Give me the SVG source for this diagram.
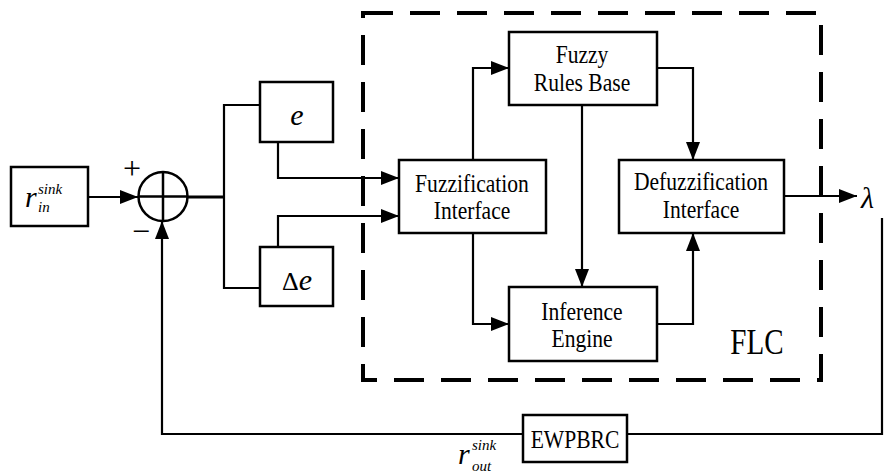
<svg xmlns="http://www.w3.org/2000/svg" width="884" height="473" viewBox="0 0 884 473">
<style>
.box{fill:#fff;stroke:#000;stroke-width:2.5}
.ln{fill:none;stroke:#000;stroke-width:2.2}
.t{font-size:26px;text-anchor:middle;fill:#000}
.m{font-style:italic;fill:#000}
.dash{fill:none;stroke:#000;stroke-width:4;stroke-dasharray:30 17}
</style>
<defs>
<marker id="ah" markerUnits="userSpaceOnUse" markerWidth="18" markerHeight="14" refX="18" refY="7" orient="auto">
<path d="M0,0 L18,7 L0,14 z" fill="#000"/>
</marker>
</defs>
<rect id="flc-frame" class="dash" x="363" y="13" width="458" height="367"/>
<g id="connectors">
<path class="ln" d="M88,197 H138" marker-end="url(#ah)"/>
<path class="ln" d="M187.5,197 H224" style="stroke-width:3"/>
<path class="ln" d="M260,105 H224 V288 H260"/>
<path class="ln" d="M278,142 V178 H399" marker-end="url(#ah)"/>
<path class="ln" d="M278,247 V216 H399" marker-end="url(#ah)"/>
<path class="ln" d="M473,160 V68 H509" marker-end="url(#ah)"/>
<path class="ln" d="M473,233 V324 H509" marker-end="url(#ah)"/>
<path class="ln" d="M582,105 V287" marker-end="url(#ah)"/>
<path class="ln" d="M657,68 H693 V160" marker-end="url(#ah)"/>
<path class="ln" d="M657,324 H693 V233" marker-end="url(#ah)"/>
<path class="ln" d="M784,196 H857" marker-end="url(#ah)"/>
<path class="ln" d="M882,218 V434 H627"/>
<path class="ln" d="M523,434 H162 V221" marker-end="url(#ah)"/>
</g>
<g font-family="Liberation Serif, Times New Roman, serif">
<g id="rin">
<rect class="box" x="11" y="167" width="77" height="59"/>
<text class="m" x="25" y="207" font-size="30">r</text>
<text class="m" x="38" y="194" font-size="15">sink</text>
<text class="m" x="38" y="212" font-size="15">in</text>
</g>
<g id="sum">
<circle cx="163" cy="196.5" r="24.5" fill="#fff" stroke="#000" stroke-width="2.5"/>
<path d="M138.5,196.5 H187.5 M163,172 V221" stroke="#000" stroke-width="2.5"/>
<text class="t" x="132" y="179" style="font-size:32px">+</text>
<text class="t" x="141" y="242" style="font-size:32px">−</text>
</g>
<g id="e">
<rect class="box" x="260" y="82" width="73" height="60"/>
<text class="m" x="297" y="125" font-size="30" text-anchor="middle">e</text>
</g>
<g id="de">
<rect class="box" x="260" y="247" width="73" height="59"/>
<text x="297" y="290" text-anchor="middle" font-size="26">Δ<tspan font-style="italic" font-size="30">e</tspan></text>
</g>
<g id="fuzzification">
<rect class="box" x="399" y="160" width="147" height="73"/>
<text class="t" transform="translate(472,192) scale(0.83,1)">Fuzzification</text>
<text class="t" transform="translate(472,219) scale(0.83,1)">Interface</text>
</g>
<g id="rules">
<rect class="box" x="509" y="32" width="148" height="73"/>
<text class="t" transform="translate(582,63) scale(0.83,1)">Fuzzy</text>
<text class="t" transform="translate(582,91) scale(0.83,1)">Rules Base</text>
</g>
<g id="inference">
<rect class="box" x="509" y="287" width="148" height="74"/>
<text class="t" transform="translate(582,320) scale(0.83,1)">Inference</text>
<text class="t" transform="translate(582,347) scale(0.83,1)">Engine</text>
</g>
<g id="defuzzification">
<rect class="box" x="619" y="160" width="165" height="73"/>
<text class="t" transform="translate(701,190) scale(0.83,1)">Defuzzification</text>
<text class="t" transform="translate(701,218) scale(0.83,1)">Interface</text>
</g>
<g id="lambda">
<text class="m" x="861" y="208" font-size="30">λ</text>
</g>
<g id="flc-label">
<text class="t" transform="translate(757,354) scale(0.83,1)" style="font-size:35px">FLC</text>
</g>
<g id="ewpbrc">
<rect class="box" x="523" y="415" width="104" height="47"/>
<text class="t" transform="translate(575,448) scale(0.83,1)">EWPBRC</text>
</g>
<g id="rout">
<text class="m" x="458" y="464" font-size="30">r</text>
<text class="m" x="472" y="450" font-size="15">sink</text>
<text class="m" x="472" y="471" font-size="15">out</text>
</g>
</g>
</svg>
